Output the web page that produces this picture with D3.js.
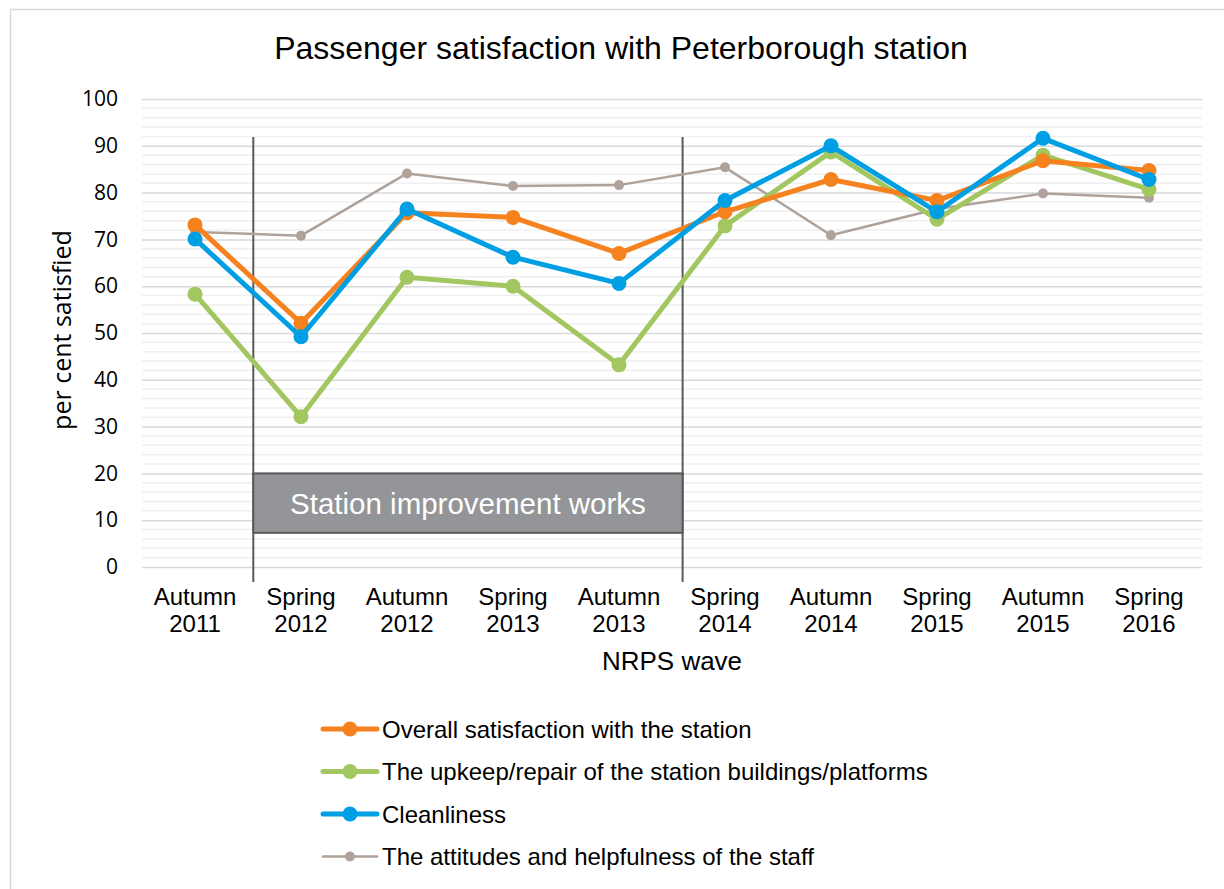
<!DOCTYPE html>
<html>
<head>
<meta charset="utf-8">
<script src="https://cdnjs.cloudflare.com/ajax/libs/d3/7.8.5/d3.min.js"></script>
<style>
  body { margin: 0; background: #fff; }
  text { font-family: "Liberation Sans", Arial, sans-serif; }
</style>
</head>
<body>
<div id="chart"></div>
<script>
// chart data
var waves = ["Autumn 2011", "Spring 2012", "Autumn 2012", "Spring 2013", "Autumn 2013",
             "Spring 2014", "Autumn 2014", "Spring 2015", "Autumn 2015", "Spring 2016"];
var overall =  [73.1, 52.1, 75.7, 74.7, 67.0, 75.9, 82.8, 78.3, 86.8, 84.7];
var upkeep =   [58.3, 32.1, 61.9, 60.0, 43.2, 72.9, 88.7, 74.3, 88.0, 80.7];
var clean =    [70.1, 49.2, 76.5, 66.2, 60.6, 78.3, 90.0, 75.9, 91.6, 82.8];
var staff =    [71.6, 70.8, 84.1, 81.4, 81.6, 85.4, 70.9, 76.5, 79.8, 78.9];
var seriesNames = ["Overall satisfaction with the station",
                   "The upkeep/repair of the station buildings/platforms",
                   "Cleanliness",
                   "The attitudes and helpfulness of the staff"];
var yTicks = [0, 10, 20, 30, 40, 50, 60, 70, 80, 90, 100];
var worksLabel = "Station improvement works";

var W = 1224, H = 889;

var svg = d3.select("#chart").append("svg")
    .attr("width", W)
    .attr("height", H);

// outer frame
svg.append("rect")
    .attr("x", 10.5).attr("y", 9.5)
    .attr("width", 1230).attr("height", 900)
    .style("fill", "none").style("stroke", "#d9d9d9").style("stroke-width", 1.5);

var x = d3.scaleBand().domain(waves).range([142, 1202]);
var y = d3.scaleLinear().domain([0, 100]).range([567, 99]);

var g = svg.append("g");

// minor gridlines every 2
d3.range(2, 100, 2).filter(function (v) { return v % 10 !== 0; }).forEach(function (v) {
    g.append("line")
        .attr("x1", 142).attr("x2", 1202)
        .attr("y1", y(v)).attr("y2", y(v))
        .style("stroke", "#efefef").style("stroke-width", 1.5);
});

// major gridlines + y tick labels via axis
var yAxis = d3.axisLeft(y).tickValues(yTicks).tickSize(-1060).tickPadding(24);
var ya = g.append("g").attr("transform", "translate(142,0)").call(yAxis);
ya.select(".domain").remove();
ya.selectAll(".tick line").style("stroke", "#d9d9d9").style("stroke-width", 1.5);
ya.selectAll(".tick text")
    .style("font-family", "'Open Sans', sans-serif")
    .style("font-size", "21px").style("fill", "#000");

// x axis labels (two lines)
var xa = g.append("g");
waves.forEach(function (w) {
    var parts = w.split(" ");
    var cx = x(w) + x.bandwidth() / 2;
    var t = xa.append("text")
        .attr("x", cx)
        .attr("y", 605)
        .attr("text-anchor", "middle")
        .style("font-size", "24px");
    t.append("tspan").attr("x", cx).text(parts[0]);
    t.append("tspan").attr("x", cx).attr("dy", 27).text(parts[1]);
});

// works markers
var wx1 = x(waves[1]) + x.bandwidth() * 0.05;
var wx2 = x(waves[5]) + x.bandwidth() * 0.1;
[wx1, wx2].forEach(function (vx) {
    g.append("line")
        .attr("x1", vx).attr("x2", vx)
        .attr("y1", 137).attr("y2", 582)
        .style("stroke", "#595959").style("stroke-width", 2);
});
g.append("rect")
    .attr("x", wx1).attr("y", y(20))
    .attr("width", wx2 - wx1).attr("height", y(7.3) - y(20))
    .style("fill", "#939598").style("stroke", "#595959").style("stroke-width", 2);
g.append("text")
    .attr("x", (wx1 + wx2) / 2).attr("y", y(13.6))
    .attr("text-anchor", "middle").attr("dominant-baseline", "central")
    .style("fill", "#fff").style("font-size", "29.5px")
    .text(worksLabel);

// series
var series = [
    { name: seriesNames[3], values: staff, color: "#afa29a", width: 2.5, r: 5 },
    { name: seriesNames[1], values: upkeep, color: "#a2c660", width: 5, r: 7.5 },
    { name: seriesNames[0], values: overall, color: "#f5821f", width: 5, r: 7.5 },
    { name: seriesNames[2], values: clean, color: "#009fe3", width: 5, r: 7.5 }
];

var line = d3.line()
    .x(function (d, i) { return x(waves[i]) + x.bandwidth() / 2; })
    .y(function (d) { return y(d); });

series.forEach(function (s) {
    var sg = g.append("g");
    sg.append("path")
        .attr("d", line(s.values))
        .style("fill", "none").style("stroke", s.color)
        .style("stroke-width", s.width).style("stroke-linejoin", "round");
    sg.selectAll("circle").data(s.values).enter().append("circle")
        .attr("cx", function (d, i) { return x(waves[i]) + x.bandwidth() / 2; })
        .attr("cy", function (d) { return y(d); })
        .attr("r", s.r)
        .style("fill", s.color);
});

// titles
svg.append("text")
    .attr("x", 621).attr("y", 59)
    .attr("text-anchor", "middle")
    .style("font-size", "32px")
    .text("Passenger satisfaction with Peterborough station");

svg.append("text")
    .attr("transform", "translate(71,330) rotate(-90)")
    .attr("text-anchor", "middle")
    .style("font-family", "'Open Sans', sans-serif")
    .style("font-size", "25px")
    .text("per cent satisfied");

svg.append("text")
    .attr("x", 672).attr("y", 670)
    .attr("text-anchor", "middle")
    .style("font-size", "26px")
    .text("NRPS wave");

// legend
var legendOrder = [
    { name: seriesNames[0], color: "#f5821f", width: 5, r: 7.5 },
    { name: seriesNames[1], color: "#a2c660", width: 5, r: 7.5 },
    { name: seriesNames[2], color: "#009fe3", width: 5, r: 7.5 },
    { name: seriesNames[3], color: "#afa29a", width: 2.5, r: 5 }
];
var leg = svg.append("g");
legendOrder.forEach(function (s, i) {
    var ly = 729 + i * 42.5;
    leg.append("line")
        .attr("x1", 323).attr("x2", 377)
        .attr("y1", ly).attr("y2", ly)
        .style("stroke", s.color).style("stroke-width", s.width)
        .style("stroke-linecap", "round");
    leg.append("circle")
        .attr("cx", 350).attr("cy", ly).attr("r", s.r)
        .style("fill", s.color);
    leg.append("text")
        .attr("x", 382).attr("y", ly)
        .attr("dominant-baseline", "central")
        .style("font-size", "24px")
        .text(s.name);
});
</script>
</body>
</html>
